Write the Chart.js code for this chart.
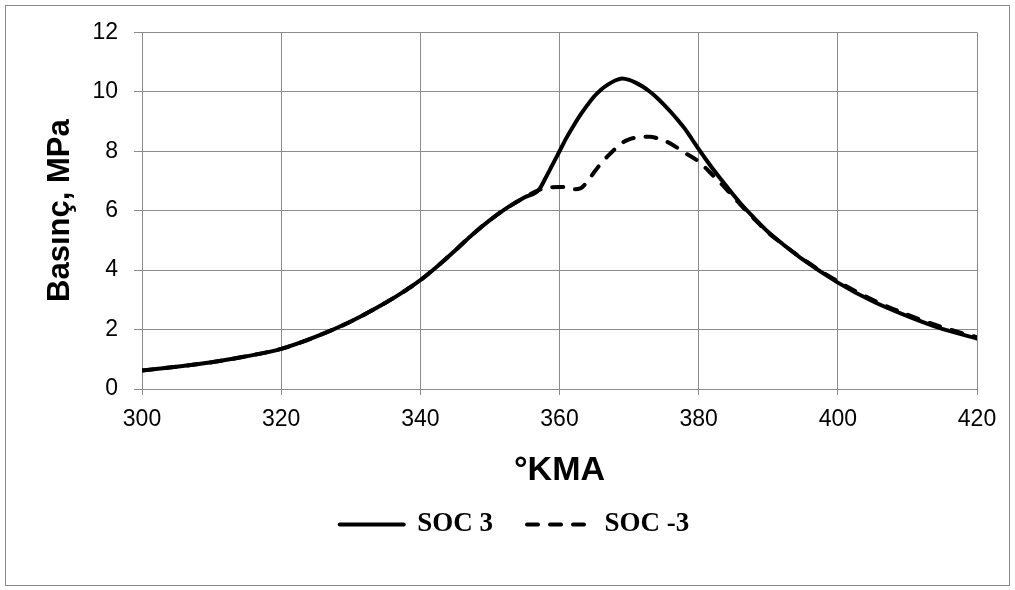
<!DOCTYPE html>
<html>
<head>
<meta charset="utf-8">
<script src="https://cdn.jsdelivr.net/npm/chart.js@4.4.0/dist/chart.umd.min.js"></script>
<style>
  html, body { margin: 0; padding: 0; background: #fff; }
  #frame {
    position: absolute; left: 5px; top: 5px;
    width: 1005px; height: 581px;
    border: 1px solid #8a8a8a; box-sizing: border-box;
  }
  #c { display: block; }
</style>
</head>
<body>
<div id="frame"><canvas id="c" width="1003" height="579" style="width:1003px;height:579px"></canvas></div>
<script>
// Crank angle (°KMA) and cylinder pressure (MPa)
// Common compression part, identical for both cases
const sharedAngle = [300, 305, 310, 315, 320, 325, 330, 335, 337.5, 340, 342.5, 345, 347.5, 350, 352.5, 355, 357];
const sharedPressure = [0.62, 0.75, 0.9, 1.1, 1.35, 1.76, 2.27, 2.9, 3.26, 3.66, 4.14, 4.66, 5.2, 5.68, 6.1, 6.45, 6.69];

// Combustion part, SOC 3
const soc3Angle = [358, 359, 360, 361, 362, 363, 364, 365, 366, 367, 368, 369, 370, 371, 372, 373, 374, 375, 376, 377, 378, 379, 380, 381, 382, 384, 386, 388, 390, 392.5, 395, 400, 405, 410, 415, 420];
const soc3Pressure = [7.1, 7.55, 8.0, 8.45, 8.85, 9.22, 9.55, 9.85, 10.08, 10.25, 10.38, 10.45, 10.4, 10.3, 10.17, 10.0, 9.8, 9.57, 9.32, 9.05, 8.76, 8.42, 8.07, 7.74, 7.42, 6.82, 6.25, 5.75, 5.28, 4.8, 4.35, 3.58, 2.95, 2.45, 2.02, 1.7];

// Combustion part, SOC -3
const socM3Angle = [358, 360, 361, 362, 363, 364, 365, 366, 367, 368, 369, 370, 371, 372, 373, 374, 375, 376, 378, 380, 382, 384, 386, 388, 390, 392.5, 395, 400, 405, 410, 415, 420];
const socM3Pressure = [6.76, 6.8, 6.78, 6.72, 6.75, 6.98, 7.3, 7.6, 7.85, 8.08, 8.28, 8.4, 8.46, 8.49, 8.49, 8.44, 8.36, 8.25, 7.95, 7.65, 7.2, 6.72, 6.2, 5.72, 5.26, 4.8, 4.37, 3.62, 3.0, 2.5, 2.08, 1.74];

const seriesNames = ['SOC 3', 'SOC -3'];
const xTicks = [300, 320, 340, 360, 380, 400, 420];
const yTicks = [0, 2, 4, 6, 8, 10, 12];

function toPoints(xs, ys) {
  return xs.map((x, i) => ({ x: x, y: ys[i] }));
}

const gridColor = '#8c8c8c';
const sansFont = "'Liberation Sans', Arial, sans-serif";

// Legend entries drawn as line samples, keeping each series' dash pattern
function lineLegendLabels(chart) {
  const items = Chart.defaults.plugins.legend.labels.generateLabels(chart);
  items.forEach((item) => {
    const ds = chart.data.datasets[item.datasetIndex];
    item.lineDash = ds.borderDash || [];
    item.lineCap = ds.borderCapStyle || 'butt';
    item.lineWidth = ds.borderWidth;
    item.strokeStyle = ds.borderColor;
    item.pointStyle = 'line';
  });
  return items;
}

// Nudge the legend row to the right, under the middle of the plot
const legendShift = {
  id: 'legendShift',
  afterLayout(chart) {
    if (chart.legend) {
      chart.legend.left += 23;
      chart.legend.right += 23;
    }
  }
};

new Chart(document.getElementById('c'), {
  type: 'line',
  plugins: [legendShift],
  data: {
    datasets: [
      {
        label: seriesNames[0],
        data: toPoints(sharedAngle.concat(soc3Angle), sharedPressure.concat(soc3Pressure)),
        borderColor: '#000',
        backgroundColor: '#000',
        borderWidth: 4,
        pointRadius: 0,
        cubicInterpolationMode: 'monotone',
        borderCapStyle: 'round'
      },
      {
        label: seriesNames[1],
        data: toPoints(sharedAngle.concat(socM3Angle), sharedPressure.concat(socM3Pressure)),
        borderColor: '#000',
        backgroundColor: '#000',
        borderWidth: 4,
        borderDash: [11, 12],
        borderCapStyle: 'round',
        pointRadius: 0,
        cubicInterpolationMode: 'monotone'
      }
    ]
  },
  options: {
    responsive: false,
    animation: false,
    layout: { padding: { left: 0, top: 23, right: 32, bottom: 37 } },
    plugins: {
      tooltip: { enabled: false },
      legend: {
        position: 'bottom',
        labels: {
          usePointStyle: true,
          pointStyle: 'line',
          pointStyleWidth: 64,
          padding: 34,
          color: '#000',
          generateLabels: lineLegendLabels,
          font: { family: "'Liberation Serif', 'Times New Roman', serif", weight: 'bold', size: 27 }
        }
      }
    },
    scales: {
      x: {
        type: 'linear',
        min: 300,
        max: 420,
        afterBuildTicks: (s) => { s.ticks = xTicks.map(v => ({ value: v })); },
        afterFit: (s) => { s.height = 88; },
        grid: { color: gridColor, lineWidth: 1, tickLength: 6, drawTicks: true },
        border: { color: gridColor, width: 1 },
        ticks: { color: '#000', padding: 11, font: { family: sansFont, size: 23 } },
        title: {
          display: true,
          text: '°KMA',
          color: '#000',
          padding: { top: 0, bottom: 0 },
          font: { family: sansFont, size: 34, weight: 'bold', lineHeight: 0.4 }
        }
      },
      y: {
        min: 0,
        max: 12,
        afterBuildTicks: (s) => { s.ticks = yTicks.map(v => ({ value: v })); },
        afterFit: (s) => { s.width = 136; },
        grid: { color: gridColor, lineWidth: 1, tickLength: 8, drawTicks: true },
        border: { color: gridColor, width: 1 },
        ticks: { color: '#000', padding: 16, font: { family: sansFont, size: 23, lineHeight: 0.9 } },
        title: {
          display: true,
          text: 'Basınç, MPa',
          color: '#000',
          padding: { top: 36, bottom: 0 },
          font: { family: sansFont, size: 31, weight: 'bold' }
        }
      }
    }
  }
});
</script>
</body>
</html>
